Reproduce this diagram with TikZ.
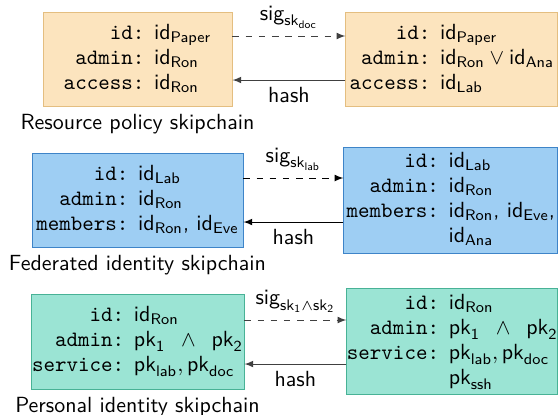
\documentclass[tikz,border=0pt]{standalone}
\usepackage{xcolor}
\usepackage{amsmath}
\usetikzlibrary{shapes,arrows,positioning,calc}
\definecolor{policyfill}{RGB}{252,228,190}
\definecolor{policydraw}{RGB}{228,190,128}
\definecolor{fedfill}{RGB}{158,206,243}
\definecolor{feddraw}{RGB}{62,132,200}
\definecolor{persfill}{RGB}{155,228,212}
\definecolor{persdraw}{RGB}{72,178,150}
\tikzstyle{chain} = [rectangle, inner sep=0pt, text centered]
\tikzstyle{policy} = [chain, draw=policydraw, fill=policyfill, minimum height=42.9pt]
\tikzstyle{fed} = [chain, draw=feddraw, fill=fedfill]
\tikzstyle{pers} = [chain, draw=persdraw, fill=persfill]
\tikzstyle{caption} = [font=\sffamily]
\tikzstyle{arrow} = [->,>=latex]
\tikzstyle{sigarrow} = [arrow, dashed]
\newcommand{\fld}[1]{\texttt{#1:}}
\newcommand{\idm}[1]{\textsf{id}_{\textsf{#1}}}
\newcommand{\idv}[1]{$\idm{#1}$}
\newcommand{\pkv}[1]{\textsf{pk}_{\textsf{#1}}}
\newcommand{\skv}[1]{\textsf{sk}_{\textsf{#1}}}
\renewcommand{\arraystretch}{0.95}

\begin{document}
\begin{tikzpicture}[x=0.456pt, y=-0.456pt, font=\sffamily]
	\useasboundingbox (0,0) rectangle (558,414);
	% resource policy
	\node (pol1) [policy, minimum width=86.2pt] at (137.5,59) {\begin{tabular}{@{}r@{ }l@{}}
		\fld{id} & \idv{Paper}\\
		\fld{admin} & \idv{Ron}\\
		\fld{access} & \idv{Ron}
	\end{tabular}};
	\node (pol2) [policy, minimum width=96.7pt, right=51.5pt of pol1] {\begin{tabular}{@{}r@{ }l@{}}
		\fld{id} & \idv{Paper}\\
		\fld{admin} & $\idm{Ron}\vee\idm{Ana}$\\
		\fld{access} & \idv{Lab}
	\end{tabular}};
	\node (polcap) [caption, below=0pt of pol1] {Resource policy skipchain};
	% federated identity
	\node (fed1) [fed, minimum width=96.2pt, minimum height=42.9pt] at (137.5,200) {\begin{tabular}{@{}r@{ }l@{}}
		\fld{id} & \idv{Lab}\\
		\fld{admin} & \idv{Ron}\\
		\fld{members} & \idv{Ron}, \idv{Eve}
	\end{tabular}};
	\node (fed2) [fed, minimum width=97.6pt, minimum height=48.3pt, right=45.6pt of fed1] {\begin{tabular}{@{}r@{ }l@{}}
		\fld{id} & \idv{Lab}\\
		\fld{admin} & \idv{Ron}\\
		\fld{members} & \idv{Ron}, \idv{Eve},\\
		& \idv{Ana}
	\end{tabular}};
	\node (fedcap) [caption, below=0pt of fed1] {Federated identity skipchain};
	% personal identity
	\node (pers1) [pers, minimum width=97.1pt, minimum height=43.3pt] at (137.5,341.5) {\begin{tabular}{@{}r@{ }l@{}}
		\fld{id} & \idv{Ron}\\
		\fld{admin} & $\pkv{1}\enspace\wedge\enspace\pkv{2}$\\
		\fld{service} & $\pkv{lab},\pkv{doc}$
	\end{tabular}};
	\node (pers2) [pers, minimum width=96.2pt, minimum height=48.3pt, right=46.5pt of pers1] {\begin{tabular}{@{}r@{ }l@{}}
		\fld{id} & \idv{Ron}\\
		\fld{admin} & $\pkv{1}\enspace\wedge\enspace\pkv{2}$\\
		\fld{service} & $\pkv{lab},\pkv{doc}$\\
		& $\pkv{ssh}$
	\end{tabular}};
	\node (perscap) [caption, below=0pt of pers1] {Personal identity skipchain};

	% link ends
	\coordinate (polsig) at ($(pol1.east)+(0,-23)$);
	\coordinate (polhash) at ($(pol2.west)+(0,21)$);
	\coordinate (fedsig) at ($(fed1.east)+(0,-22)$);
	\coordinate (fedhash) at ($(fed2.west)+(0,22)$);
	\coordinate (perssig) at ($(pers1.east)+(0,-21.5)$);
	\coordinate (pershash) at ($(pers2.west)+(0,22.5)$);

	\draw [sigarrow, draw=black!75] (polsig) -- node[anchor=south] {$\textsf{sig}_{\skv{doc}}$} (polsig -| pol2.west);
	\draw [arrow, draw=black!75] (polhash) -- node[anchor=north] {hash} (polhash -| pol1.east);
	\draw [sigarrow] (fedsig) -- node[anchor=south] {$\textsf{sig}_{\skv{lab}}$} (fedsig -| fed2.west);
	\draw [arrow] (fedhash) -- node[anchor=north] {hash} (fedhash -| fed1.east);
	\draw [sigarrow, draw=black!75] (perssig) -- node[anchor=south] {$\textsf{sig}_{\skv{1}\wedge\skv{2}}$} (perssig -| pers2.west);
	\draw [arrow, draw=black!75] (pershash) -- node[anchor=north] {hash} (pershash -| pers1.east);
\end{tikzpicture}
\end{document}
